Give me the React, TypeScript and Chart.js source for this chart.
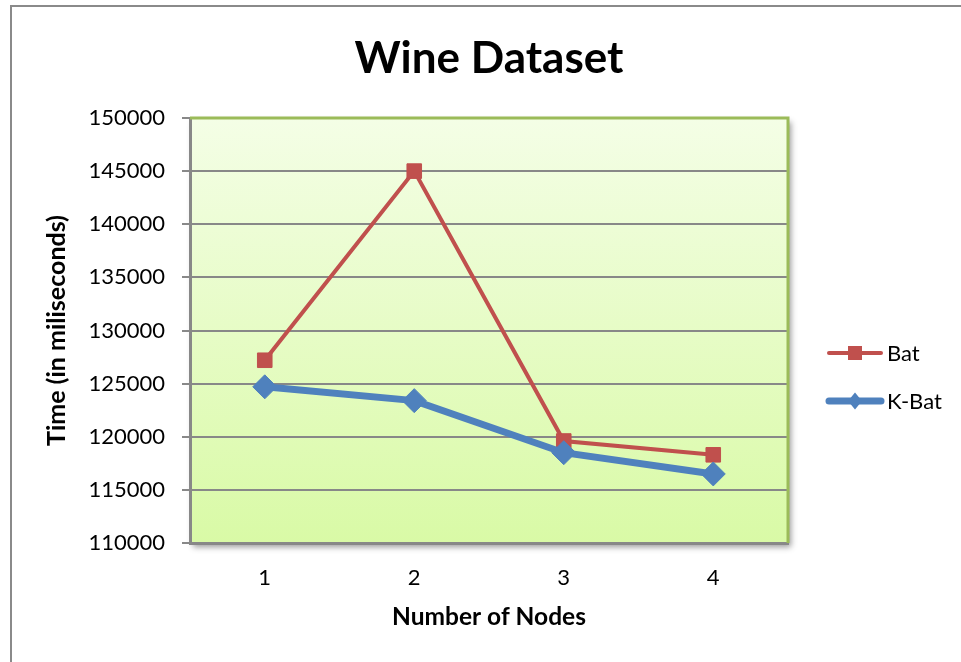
import React, { useEffect, useRef } from 'react';
import { Chart, registerables } from 'chart.js';

Chart.register(...registerables);

const categories = ['1', '2', '3', '4'];
const batValues = [127200, 145000, 119600, 118300];
const kBatValues = [124700, 123400, 118500, 116500];
const seriesNames = ['Bat', 'K-Bat'];
const yMin = 110000;
const yMax = 150000;
const yStep = 5000;
const chartTitle = 'Wine Dataset';
const xAxisTitle = 'Number of Nodes';
const yAxisTitle = 'Time (in miliseconds)';

const FONT = 'Lato, "Open Sans", sans-serif';
const RED = '#C0504D';
const BLUE = '#4F81BD';
const GRID = '#888888';
const GREEN = '#9BBB59';

const decor = {
  id: 'decor',
  beforeDraw(chart: any) {
    const { ctx, chartArea: a, width, height } = chart;
    ctx.save();
    ctx.fillStyle = '#ffffff';
    ctx.fillRect(0, 0, width, height);
    ctx.strokeStyle = '#8a8a8a';
    ctx.lineWidth = 2;
    ctx.beginPath();
    ctx.moveTo(11, height);
    ctx.lineTo(11, 6);
    ctx.lineTo(width, 6);
    ctx.stroke();
    ctx.shadowColor = 'rgba(0,0,0,0.4)';
    ctx.shadowBlur = 6;
    ctx.shadowOffsetX = 3;
    ctx.shadowOffsetY = 4;
    const g = ctx.createLinearGradient(0, a.top, 0, a.bottom);
    g.addColorStop(0, '#F4FEE6');
    g.addColorStop(1, '#D9FAA6');
    ctx.fillStyle = g;
    ctx.fillRect(a.left, a.top, a.right - a.left, a.bottom - a.top);
    ctx.restore();
  },
  beforeDatasetsDraw(chart: any) {
    const { ctx, chartArea: a } = chart;
    ctx.save();
    ctx.strokeStyle = GREEN;
    ctx.lineWidth = 3;
    ctx.beginPath();
    ctx.moveTo(a.left, a.top);
    ctx.lineTo(a.right, a.top);
    ctx.lineTo(a.right, a.bottom);
    ctx.stroke();
    ctx.restore();
  },
  afterDraw(chart: any) {
    const { ctx } = chart;
    ctx.save();
    chart.data.datasets.forEach((ds: any, i: number) => {
      const y = 353 + i * 48;
      ctx.strokeStyle = ds.borderColor;
      ctx.lineWidth = ds.borderWidth;
      ctx.lineCap = 'round';
      ctx.beginPath();
      ctx.moveTo(829, y);
      ctx.lineTo(881, y);
      ctx.stroke();
      ctx.fillStyle = ds.pointBackgroundColor;
      if (ds.pointStyle === 'rect') {
        ctx.fillRect(855 - 7, y - 7, 14, 14);
      } else {
        ctx.beginPath();
        ctx.moveTo(855, y - 8.5);
        ctx.lineTo(862, y);
        ctx.lineTo(855, y + 8.5);
        ctx.lineTo(848, y);
        ctx.closePath();
        ctx.fill();
      }
      ctx.fillStyle = '#000';
      ctx.font = `22px ${FONT}`;
      ctx.textAlign = 'left';
      ctx.textBaseline = 'middle';
      ctx.fillText(ds.label, 887, y + 1);
    });
    ctx.restore();
  },
};

export default function App() {
  const ref = useRef<HTMLCanvasElement>(null);
  useEffect(() => {
    document.body.style.margin = '0';
    const chart = new Chart(ref.current as HTMLCanvasElement, {
      type: 'line',
      data: {
        labels: categories,
        datasets: [
          {
            label: seriesNames[0],
            data: batValues,
            borderColor: RED,
            backgroundColor: RED,
            borderWidth: 4,
            pointStyle: 'rect',
            pointRadius: 10.3,
            pointBackgroundColor: RED,
            pointBorderColor: RED,
            pointBorderWidth: 1,
            tension: 0,
            order: 2,
          },
          {
            label: seriesNames[1],
            data: kBatValues,
            borderColor: BLUE,
            backgroundColor: BLUE,
            borderWidth: 7,
            pointStyle: 'rectRot',
            pointRadius: 12,
            pointBackgroundColor: BLUE,
            pointBorderColor: BLUE,
            pointBorderWidth: 1,
            tension: 0,
            order: 1,
          },
        ],
      },
      options: {
        animation: false,
        responsive: false,
        devicePixelRatio: 1,
        layout: { padding: { top: 0, right: 173, left: 0, bottom: 0 } },
        plugins: {
          legend: { display: false },
          tooltip: { enabled: false },
          title: {
            display: true,
            text: chartTitle,
            fullSize: false,
            color: '#000',
            font: { family: FONT, size: 44, weight: 'bold' },
            padding: { top: 32, bottom: 33.2 },
          },
        },
        scales: {
          x: {
            type: 'category',
            offset: true,
            grid: { display: false, drawTicks: false },
            border: { display: true, color: GRID, width: 3 },
            ticks: { color: '#000', font: { family: FONT, size: 22 }, padding: 22 },
            title: {
              display: true,
              text: xAxisTitle,
              color: '#000',
              font: { family: FONT, size: 24.5, weight: 'bold' },
              padding: { top: 0, bottom: 30 },
            },
            afterFit(scale: any) {
              scale.height = 119;
            },
          },
          y: {
            min: yMin,
            max: yMax,
            ticks: {
              stepSize: yStep,
              color: '#000',
              font: { family: FONT, size: 22 },
              padding: 17,
              callback: (v: any) => String(v),
            },
            grid: { color: GRID, lineWidth: 2, tickLength: 8, drawTicks: true },
            border: { display: true, color: GRID, width: 3 },
            title: {
              display: true,
              text: yAxisTitle,
              color: '#000',
              font: { family: FONT, size: 25, weight: 'bold' },
              padding: { top: 42, bottom: 0 },
            },
            afterFit(scale: any) {
              scale.width = 190;
            },
          },
        },
      },
      plugins: [decor],
    });
    return () => chart.destroy();
  }, []);
  return <canvas ref={ref} width={961} height={662} style={{ display: 'block' }} />;
}
